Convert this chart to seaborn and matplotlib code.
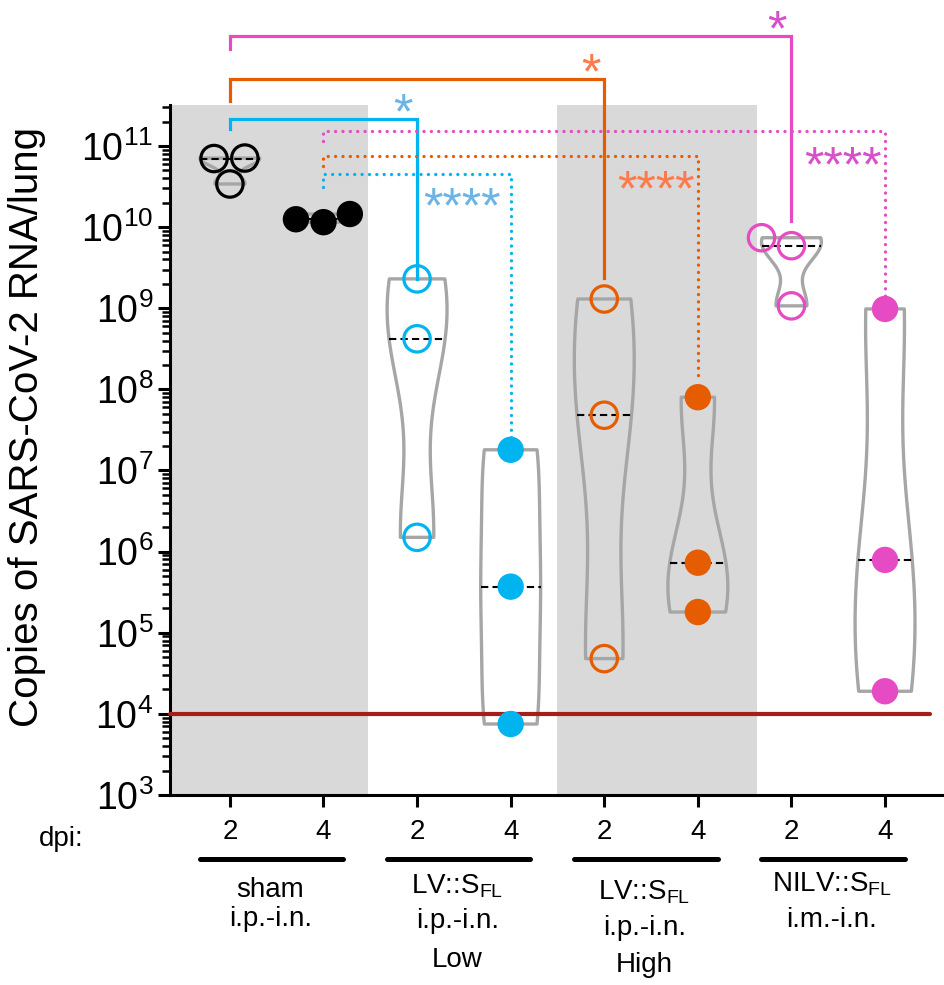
import numpy as np
import pandas as pd
import seaborn as sns
import matplotlib.pyplot as plt
from matplotlib.ticker import LogLocator, NullFormatter

# copies of SARS-CoV-2 RNA per lung, 3 mice per group
sham_d2 = [7.1e10, 7.0e10, 3.4e10]
sham_d4 = [1.15e10, 1.45e10, 1.25e10]
low_d2 = [2.3e9, 4.2e8, 1.5e6]
low_d4 = [1.8e7, 3.7e5, 7.5e3]
high_d2 = [1.3e9, 4.8e7, 4.8e4]
high_d4 = [8.0e7, 7.3e5, 1.8e5]
nilv_d2 = [7.4e9, 5.9e9, 1.07e9]
nilv_d4 = [9.8e8, 7.9e5, 1.9e4]

groups = ["sham", "LV low", "LV high", "NILV"]
days = ["2", "4"]
group_colors = ["black", "#00b4ef", "#e65c00", "#e64bc4"]
star_colors = ["#6cb4e4", "#ff7a4a", "#d650c9"]
LOD = 1e4

group_label_lines = [
    ["sham", "i.p.-i.n."],
    [r"LV::S$_{\mathregular{FL}}$", "i.p.-i.n.", "Low"],
    [r"LV::S$_{\mathregular{FL}}$", "i.p.-i.n.", "High"],
    [r"NILV::S$_{\mathregular{FL}}$", "i.m.-i.n."],
]
group_label_baselines = [[897, 926], [893, 928, 967], [899, 935, 972], [891, 927]]

# significance: sham d2 vs each d2 group (solid, "*"), sham d4 vs each d4 group (dotted, "****")
sig_solid_top = [11.33, 11.825, 12.35]
sig_solid_start = [11.21, 11.55, 12.19]
sig_solid_gap = [0.0, 0.26, 0.21]
sig_solid_label_pos = [(1.85, 11.57), (3.86, 12.07), (5.84, 12.6)]
sig_dot_top = [10.655, 10.877, 11.18]
sig_dot_start = [10.5, 10.75, 11.06]
sig_dot_gap = [0.12, 0.2, 0.14]
sig_dot_label_pos = [(2.48, 10.42), (4.55, 10.62), (6.55, 10.92)]

values = [sham_d2, sham_d4, low_d2, low_d4, high_d2, high_d4, nilv_d2, nilv_d4]
cats = [f"{g} d{d}" for g in groups for d in days]
df = pd.DataFrame({
    "cat": np.repeat(cats, 3),
    "copies": np.concatenate(values),
    "group": np.repeat(groups, 6),
})

plt.rcParams["font.family"] = ["Liberation Sans", "DejaVu Sans"]
plt.rcParams["mathtext.fontset"] = "custom"
plt.rcParams["mathtext.rm"] = "Liberation Sans"
plt.rcParams["mathtext.it"] = "Liberation Sans:italic"
plt.rcParams["mathtext.bf"] = "Liberation Sans:bold"

fig = plt.figure(figsize=(9.44, 9.85), dpi=100)
ax = fig.add_axes([170 / 944, 190 / 985, 774 / 944, 690 / 985])

# grey background bands behind sham and LV high groups
ax.axvspan(-0.64, 1.48, color="#d9d9d9", lw=0, zorder=0)
ax.axvspan(3.5, 5.63, color="#d9d9d9", lw=0, zorder=0)

sns.violinplot(data=df, x="cat", y="copies", order=cats, ax=ax, log_scale=True,
               cut=0, bw_adjust=0.65, density_norm="width", width=0.64,
               fill=False, color="#a6a6a6", linewidth=2.4, inner="quart",
               inner_kws=dict(color="black", linewidth=1.5))
# keep only the median line, dashed black
for i, ln in enumerate(ax.lines):
    if i % 3 == 1:
        ln.set_color("black")
        ln.set_linewidth(1.5)
        ln.set_linestyle((0, (3.5, 2)))
        ln.set_zorder(4)
    else:
        ln.set_visible(False)

n_before = len(ax.collections)
sns.swarmplot(data=df, x="cat", y="copies", order=cats, hue="group",
              palette=group_colors, size=19, linewidth=0, legend=False,
              ax=ax, log_scale=True, zorder=6)
for i, coll in enumerate(ax.collections[n_before:]):
    col = group_colors[i // 2]
    if i % 2 == 0:  # day 2: open circles
        coll.set_facecolor("none")
        coll.set_edgecolor(col)
        coll.set_linewidth(2.3)

# limit of detection
ax.plot([-0.64, 7.48], [LOD, LOD], color="#a61e1a", lw=3, solid_capstyle="round",
        zorder=3, clip_on=False)

maxes = [max(v) for v in values]
for k in range(3):
    tgt = 2 * (k + 1)
    c = group_colors[k + 1]
    ax.plot([0, 0, tgt, tgt],
            [10 ** sig_solid_start[k], 10 ** sig_solid_top[k], 10 ** sig_solid_top[k],
             maxes[tgt] * 10 ** sig_solid_gap[k]],
            color=c, lw=2.3, clip_on=False, zorder=5, solid_joinstyle="miter")
    tgt = 2 * (k + 1) + 1
    ax.plot([1, 1, tgt, tgt],
            [10 ** sig_dot_start[k], 10 ** sig_dot_top[k], 10 ** sig_dot_top[k],
             maxes[tgt] * 10 ** sig_dot_gap[k]],
            color=c, lw=2.4, ls=(0, (0.01, 2.2)), dash_capstyle="round",
            clip_on=False, zorder=5)
    for lab, (lx, ly) in [("*", sig_solid_label_pos[k]), ("****", sig_dot_label_pos[k])]:
        ax.annotate(lab, xy=(lx, 10 ** ly), xytext=(0, -0.58 * 36),
                    textcoords="offset points", ha="center", va="baseline",
                    fontsize=36, color=star_colors[k], annotation_clip=False)

ax.set_xlim(-0.64, 7.63)
ax.set_ylim(1e3, 3.2e11)
ax.yaxis.set_major_locator(LogLocator(base=10, numticks=20))
ax.yaxis.set_minor_locator(LogLocator(base=10, subs=np.arange(2, 10), numticks=20))
ax.yaxis.set_minor_formatter(NullFormatter())
ax.set_xticks(range(len(cats)))
ax.set_xticklabels(days * len(groups))
ax.set_xlabel("")
ax.set_ylabel("")

for side in ["top", "right"]:
    ax.spines[side].set_visible(False)
for side in ["left", "bottom"]:
    ax.spines[side].set_linewidth(2.2)
ax.tick_params(axis="y", which="major", length=9, width=2.2, labelsize=27, pad=3)
ax.tick_params(axis="y", which="minor", length=5.5, width=1.8)
ax.tick_params(axis="x", length=8.6, width=2.2, labelsize=20, pad=9)

fig.text(27 / 944, 1 - 427 / 985, "Copies of SARS-CoV-2 RNA/lung", rotation=90,
         ha="center", va="center", fontsize=29)
fig.text(39 / 944, 1 - 846 / 985, "dpi:", ha="left", va="baseline", fontsize=20)

trans = ax.get_xaxis_transform()
bar_y = (795 - 859) / 690
for g in range(len(groups)):
    ax.plot([2 * g - 0.32, 2 * g + 1.21], [bar_y, bar_y], transform=trans,
            color="black", lw=3.6, solid_capstyle="round", clip_on=False)
    for line, ypx in zip(group_label_lines[g], group_label_baselines[g]):
        ax.text(2 * g + 0.43, (795 - ypx) / 690, line, transform=trans,
                ha="center", va="baseline", fontsize=20)

fig.savefig("out.png", dpi=100)
